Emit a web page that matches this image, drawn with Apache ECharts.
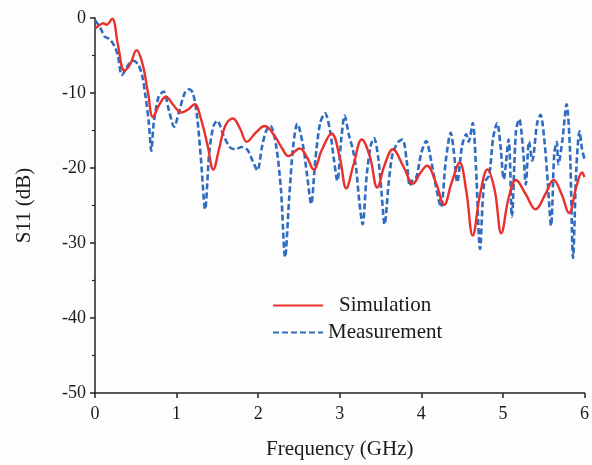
<!DOCTYPE html>
<html>
<head>
<meta charset="utf-8">
<script src="https://cdn.jsdelivr.net/npm/echarts@6/dist/echarts.min.js"></script>
<style>
html,body{margin:0;padding:0;background:#fdfdfd;}
#chart{width:592px;height:465px;}
</style>
</head>
<body>
<div id="chart"></div>
<script>
const seriesNames = ['Simulation', 'Measurement'];
const xTicks = [0, 1, 2, 3, 4, 5, 6];
const yTicks = [0, -10, -20, -30, -40, -50];

const freqSim = [0, 0.05, 0.1, 0.14, 0.21, 0.28, 0.36, 0.43, 0.51, 0.58, 0.65, 0.71, 0.79, 0.87, 0.96, 1.06, 1.14, 1.22, 1.3, 1.38, 1.45, 1.52, 1.6, 1.69, 1.78, 1.86, 1.97, 2.08, 2.2, 2.3, 2.37, 2.51, 2.6, 2.68, 2.78, 2.9, 3.0, 3.08, 3.17, 3.27, 3.37, 3.46, 3.55, 3.65, 3.78, 3.9, 3.98, 4.07, 4.18, 4.28, 4.37, 4.47, 4.55, 4.63, 4.72, 4.81, 4.9, 4.98, 5.07, 5.16, 5.28, 5.4, 5.52, 5.62, 5.72, 5.81, 5.9, 5.97, 6.0];
const s11Sim = [-1.4, -1.0, -0.7, -0.9, -0.1, -3.5, -7.0, -6.2, -4.3, -6.0, -10.0, -13.2, -11.5, -10.5, -11.6, -12.6, -12.2, -11.5, -13.5, -17.0, -20.2, -17.5, -14.3, -13.4, -14.8, -16.5, -15.3, -14.4, -15.7, -17.5, -18.4, -17.4, -18.6, -20.2, -17.6, -15.4, -18.6, -22.7, -19.5, -16.2, -18.5, -22.6, -19.6, -17.5, -19.8, -22.1, -20.8, -19.7, -22.0, -24.9, -22.0, -19.3, -23.0, -29.0, -23.5, -20.2, -23.0, -28.7, -24.0, -21.6, -23.5, -25.5, -23.5, -21.6, -23.5, -26.0, -22.5, -20.6, -21.2];

const freqMeas = [0, 0.06, 0.12, 0.18, 0.24, 0.28, 0.33, 0.41, 0.47, 0.53, 0.58, 0.62, 0.66, 0.69, 0.72, 0.78, 0.84, 0.91, 0.97, 1.03, 1.1, 1.15, 1.2, 1.25, 1.3, 1.35, 1.4, 1.45, 1.5, 1.57, 1.65, 1.72, 1.8, 1.87, 1.93, 1.99, 2.05, 2.1, 2.15, 2.22, 2.28, 2.33, 2.38, 2.43, 2.48, 2.55, 2.6, 2.65, 2.7, 2.76, 2.82, 2.88, 2.93, 2.97, 3.02, 3.06, 3.11, 3.16, 3.2, 3.24, 3.28, 3.33, 3.38, 3.42, 3.47, 3.51, 3.55, 3.6, 3.65, 3.72, 3.77, 3.82, 3.86, 3.9, 3.94, 4.0, 4.06, 4.12, 4.18, 4.24, 4.3, 4.36, 4.4, 4.44, 4.5, 4.55, 4.58, 4.63, 4.67, 4.72, 4.77, 4.83, 4.88, 4.93, 4.97, 5.01, 5.07, 5.11, 5.16, 5.2, 5.25, 5.28, 5.32, 5.36, 5.42, 5.46, 5.51, 5.55, 5.59, 5.63, 5.66, 5.68, 5.73, 5.78, 5.82, 5.86, 5.9, 5.94, 5.97, 6.0];
const s11Meas = [-0.3, -1.2, -2.5, -2.8, -3.8, -5.0, -7.6, -6.2, -5.7, -6.2, -7.8, -10.5, -14.0, -17.7, -14.0, -10.5, -9.8, -12.5, -14.5, -12.5, -10.0, -9.5, -10.0, -13.0, -19.0, -25.5, -18.0, -14.5, -13.7, -15.5, -17.2, -17.5, -17.2, -17.6, -19.0, -20.3, -17.0, -15.0, -14.4, -17.0, -23.0, -31.9, -24.0, -17.0, -14.1, -17.0, -21.0, -24.8, -19.0, -14.0, -12.7, -15.0, -19.0, -21.7, -16.0, -13.0, -15.5, -17.5, -20.0, -24.5, -27.5, -21.0, -17.0, -16.0, -18.5, -23.0, -27.5, -22.0, -18.0, -16.5, -16.2, -19.0, -22.4, -21.5, -21.2, -18.0, -16.4, -19.0, -22.5, -25.2, -19.0, -15.3, -18.0, -21.9, -17.0, -15.5, -16.5, -14.0, -20.0, -30.8, -22.0, -21.0, -16.0, -14.0, -17.0, -21.5, -16.2, -26.5, -15.0, -13.5, -18.0, -22.2, -16.5, -19.0, -14.0, -12.9, -16.5, -22.0, -27.7, -18.0, -16.5, -19.5, -16.2, -11.5, -17.0, -32.0, -20.0, -15.1, -17.5, -18.8];

const simData = freqSim.map((f, i) => [f, s11Sim[i]]);
const measData = freqMeas.map((f, i) => [f, s11Meas[i]]);

const FONT = '"Liberation Serif", "Times New Roman", serif';
const chart = echarts.init(document.getElementById('chart'), null, {renderer: 'canvas'});
chart.setOption({
  backgroundColor: '#fdfdfd',
  animation: false,
  grid: {left: 95, right: 7, top: 18, bottom: 67, containLabel: false},
  legend: [
    {data: [seriesNames[0]], left: 272, top: 295, padding: 0, orient: 'vertical', itemWidth: 50, itemHeight: 20,
     itemStyle: {opacity: 0},
     textStyle: {fontFamily: FONT, fontSize: 21, color: '#1a1a1a', padding: [0, 0, 0, 11]}},
    {data: [seriesNames[1]], left: 272, top: 322, padding: 0, orient: 'vertical', itemWidth: 50, itemHeight: 20,
     itemStyle: {opacity: 0},
     textStyle: {fontFamily: FONT, fontSize: 21, color: '#1a1a1a', padding: [0, 0, 0, 0]}}
  ],
  xAxis: {
    type: 'value', min: xTicks[0], max: xTicks[xTicks.length - 1], interval: 1,
    name: 'Frequency (GHz)', nameLocation: 'middle', nameGap: 46,
    nameTextStyle: {fontFamily: FONT, fontSize: 21, color: '#1a1a1a'},
    axisLine: {show: true, onZero: false, lineStyle: {color: '#222', width: 1.5}},
    axisTick: {show: true, length: 5, lineStyle: {color: '#222', width: 1.5}},
    axisLabel: {fontFamily: FONT, fontSize: 18, color: '#1a1a1a', margin: 12},
    splitLine: {show: false}
  },
  yAxis: {
    type: 'value', min: yTicks[yTicks.length - 1], max: yTicks[0], interval: 10,
    name: 'S11 (dB)', nameLocation: 'middle', nameGap: 60, nameRotate: 90,
    nameTextStyle: {fontFamily: FONT, fontSize: 21, color: '#1a1a1a'},
    axisLine: {show: true, onZero: false, lineStyle: {color: '#222', width: 1.5}},
    axisTick: {show: true, length: 5, lineStyle: {color: '#222', width: 1.5}},
    minorTick: {show: true, splitNumber: 2, length: 3, lineStyle: {color: '#222', width: 1.2}},
    axisLabel: {fontFamily: FONT, fontSize: 18, color: '#1a1a1a', margin: 9},
    splitLine: {show: false}
  },
  series: [
    {name: seriesNames[1], type: 'line', data: measData, smooth: 0.3, symbol: 'none', showSymbol: false,
     lineStyle: {color: '#2f6cc0', width: 2.6, type: [6, 3]}, itemStyle: {color: '#2f6cc0'}, z: 2},
    {name: seriesNames[0], type: 'line', data: simData, smooth: 0.4, symbol: 'none', showSymbol: false,
     lineStyle: {color: '#e8302c', width: 2.4}, itemStyle: {color: '#e8302c'}, z: 3}
  ]
});
</script>
</body>
</html>
